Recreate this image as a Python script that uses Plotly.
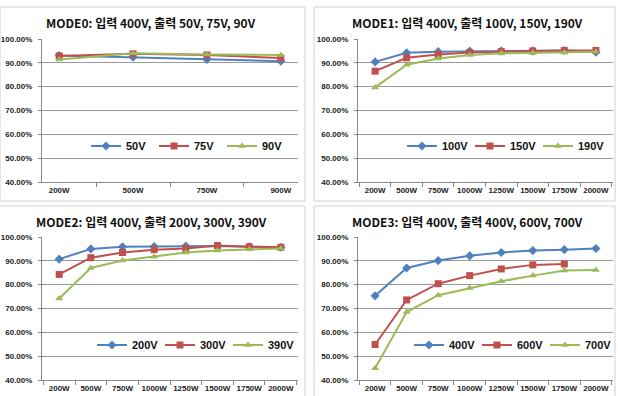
import plotly.graph_objects as go

W, H = 618, 396

cats_mode0 = ["200W", "500W", "750W", "900W"]
cats_full = ["200W", "500W", "750W", "1000W", "1250W", "1500W", "1750W", "2000W"]

titles = [
    "MODE0: 입력 400V, 출력 50V, 75V, 90V",
    "MODE1: 입력 400V, 출력 100V, 150V, 190V",
    "MODE2: 입력 400V, 출력 200V, 300V, 390V",
    "MODE3: 입력 400V, 출력 400V, 600V, 700V",
]

names_mode0 = ["50V", "75V", "90V"]
mode0_50v = [0.931, 0.924, 0.914, 0.907]
mode0_75v = [0.929, 0.938, 0.933, 0.920]
mode0_90v = [0.914, 0.940, 0.935, 0.933]

names_mode1 = ["100V", "150V", "190V"]
mode1_100v = [0.904, 0.942, 0.947, 0.949, 0.950, 0.950, 0.952, 0.945]
mode1_150v = [0.865, 0.921, 0.935, 0.943, 0.947, 0.950, 0.952, 0.952]
mode1_190v = [0.797, 0.892, 0.918, 0.933, 0.940, 0.942, 0.943, 0.947]

names_mode2 = ["200V", "300V", "390V"]
mode2_200v = [0.907, 0.950, 0.959, 0.960, 0.962, 0.962, 0.959, 0.957]
mode2_300v = [0.843, 0.913, 0.935, 0.947, 0.952, 0.964, 0.959, 0.957]
mode2_390v = [0.742, 0.870, 0.901, 0.917, 0.935, 0.943, 0.949, 0.952]

names_mode3 = ["400V", "600V", "700V"]
mode3_400v = [0.753, 0.870, 0.901, 0.921, 0.935, 0.943, 0.947, 0.952]
mode3_600v = [0.549, 0.736, 0.804, 0.838, 0.866, 0.883, 0.887]
mode3_700v = [0.449, 0.685, 0.756, 0.786, 0.814, 0.838, 0.859, 0.862]

colors = ["#4F81BD", "#C0504D", "#9BBB59"]
symbols = ["diamond", "square", "triangle-up"]
msizes = [7, 7, 7]

panels = [
    (cats_mode0, names_mode0, [mode0_50v, mode0_75v, mode0_90v]),
    (cats_full, names_mode1, [mode1_100v, mode1_150v, mode1_190v]),
    (cats_full, names_mode2, [mode2_200v, mode2_300v, mode2_390v]),
    (cats_full, names_mode3, [mode3_400v, mode3_600v, mode3_700v]),
]

# plot areas in pixels (x0, x1, ytop, ybottom)
areas = [(42, 298, 39, 182), (358, 613, 39, 182), (42, 298, 237, 380), (358, 613, 237, 380)]
borders = [(0, 305, 7, 201), (314, 615, 7, 201), (-2, 305, 206, 400), (314, 615, 206, 400)]
title_pos = [(151, 23), (467, 23), (151, 221), (467, 221)]
legend_pos = [(290, 146), (606, 146), (296, 345), (613, 345)]

def px(x):
    return x / W

def py(y):
    return 1 - y / H

fig = go.Figure()
layout = dict(
    width=W, height=H, margin=dict(l=0, r=0, t=0, b=0, autoexpand=False),
    paper_bgcolor="white", plot_bgcolor="white",
    shapes=[], annotations=[],
)

tick_font = dict(family="Liberation Sans, Arial, sans-serif", size=8, color="#222", weight="bold")

for i, (cats, names, series) in enumerate(panels):
    k = "" if i == 0 else str(i + 1)
    lg = "legend" if i == 0 else "legend" + str(i + 1)
    for j, (nm, vals) in enumerate(zip(names, series)):
        fig.add_trace(go.Scatter(
            x=cats[:len(vals)], y=vals, name=nm, mode="lines+markers",
            line=dict(color=colors[j], width=2),
            marker=dict(symbol=symbols[j], size=msizes[j], color=colors[j]),
            xaxis="x" + k, yaxis="y" + k, legend=lg,
        ))
    x0, x1, yt, yb = areas[i]
    layout["xaxis" + k] = dict(
        domain=[px(x0), px(x1)], anchor="y" + k, type="category",
        categoryorder="array", categoryarray=cats,
        showline=True, linecolor="#888", linewidth=1,
        ticks="outside", tickson="boundaries", ticklen=4, tickcolor="#888",
        showgrid=False, tickfont=tick_font, fixedrange=True,
        tickangle=0, automargin=False,
    )
    layout["yaxis" + k] = dict(
        domain=[py(yb), py(yt)], anchor="x" + k, range=[0.4, 1.0],
        tickvals=[0.4, 0.5, 0.6, 0.7, 0.8, 0.9, 1.0], tickformat=".2%",
        showline=True, linecolor="#888", linewidth=1,
        showgrid=True, gridcolor="#999999", gridwidth=1,
        ticks="outside", ticklen=3, tickcolor="#888",
        tickfont=tick_font, zeroline=False, fixedrange=True,
        automargin=False, ticklabelstandoff=4,
    )
    lx, ly = legend_pos[i]
    layout[lg] = dict(
        x=px(lx), y=py(ly), xanchor="right", yanchor="middle",
        orientation="h", bgcolor="rgba(0,0,0,0)",
        font=dict(family="Liberation Sans, Arial, sans-serif", size=11, color="#111", weight="bold"),
        itemwidth=30, tracegroupgap=0, entrywidthmode="pixels", entrywidth=23,
    )
    bx0, bx1, by0, by1 = borders[i]
    layout["shapes"].append(dict(
        type="rect", xref="paper", yref="paper",
        x0=px(bx0), x1=px(bx1), y0=py(by1), y1=py(by0),
        line=dict(color="#d0d0d0", width=1), layer="below",
    ))
    tx, ty = title_pos[i]
    layout["annotations"].append(dict(
        text=titles[i], xref="paper", yref="paper", x=px(tx), y=py(ty),
        xanchor="center", yanchor="middle", showarrow=False,
        font=dict(family="Noto Sans CJK KR, sans-serif", size=12, color="#111", weight="bold"),
    ))

fig.update_layout(**layout)
fig.write_html(
    "out.html",
    config={"displayModeBar": False},
    post_script="document.body.style.margin='0';document.body.style.overflow='hidden';",
)
